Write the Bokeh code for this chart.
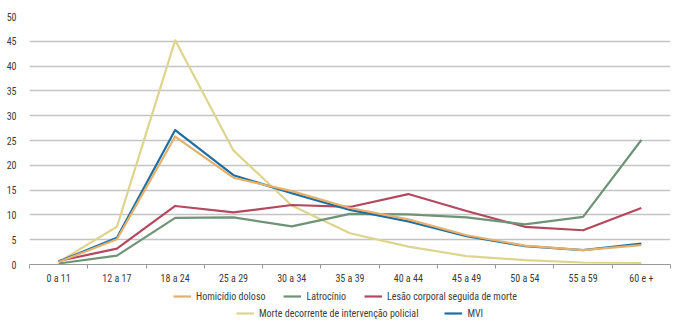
from bokeh.plotting import figure
from bokeh.layouts import column
from bokeh.models import Range1d, FixedTicker, Legend, LegendItem
from bokeh.embed import file_html
from bokeh.resources import INLINE

# Age groups and rates by type of violent death
categories = ["0 a 11", "12 a 17", "18 a 24", "25 a 29", "30 a 34", "35 a 39",
              "40 a 44", "45 a 49", "50 a 54", "55 a 59", "60 e +"]
homicidio_doloso = [0.5, 5.1, 25.8, 17.5, 14.8, 11.4, 9.1, 5.9, 3.8, 2.9, 3.9]
latrocinio = [0.2, 1.8, 9.4, 9.5, 7.7, 10.2, 10.1, 9.5, 8.1, 9.6, 25.1]
lesao_corporal = [0.7, 3.2, 11.8, 10.5, 12.0, 11.6, 14.2, 10.8, 7.6, 6.9, 11.4]
morte_policial = [0.5, 7.6, 45.2, 23.0, 11.9, 6.3, 3.6, 1.7, 0.9, 0.4, 0.3]
mvi = [0.6, 5.4, 27.1, 18.0, 14.4, 11.0, 8.7, 5.7, 3.7, 2.9, 4.2]
y_ticks = [0, 5, 10, 15, 20, 25, 30, 35, 40, 45, 50]

FONT = "'Liberation Sans Narrow', 'Roboto Condensed', 'Arial Narrow', sans-serif"
TEXT = "#3c3c3c"
GRID = "#c4c4c4"

series = [
    ("Homicídio doloso", homicidio_doloso, "#e4b06a"),
    ("Latrocínio", latrocinio, "#6f9376"),
    ("Lesão corporal seguida de morte", lesao_corporal, "#b4485e"),
    ("Morte decorrente de intervenção policial", morte_policial, "#ddd58e"),
    ("MVI", mvi, "#1d6fa3"),
]

# each age group sits in the middle of its slot; slot edges carry the tick marks
xs = [i + 0.5 for i in range(len(categories))]
edges = list(range(len(categories) + 1))

chart = figure(frame_width=641, frame_height=248, output_backend="svg",
               toolbar_location=None,
               x_range=Range1d(0, len(categories)), y_range=Range1d(0, 50),
               min_border_left=29, min_border_right=23, min_border_top=16,
               min_border_bottom=20)
chart.outline_line_color = None

draw_order = [3, 2, 1, 4, 0]
for idx in draw_order:
    name, vals, color = series[idx]
    chart.line(xs, vals, line_color=color, line_width=2.2, line_join="round")

# x axis: labels at group centres, small ticks at group boundaries
xa = chart.xaxis[0]
xa.ticker = FixedTicker(ticks=xs, minor_ticks=edges)
xa.major_label_overrides = {x: c for x, c in zip(xs, categories)}
xa.major_tick_line_color = None
xa.major_tick_in = 0
xa.major_tick_out = 0
xa.minor_tick_line_color = "#9a9a9a"
xa.minor_tick_in = 0
xa.minor_tick_out = 4
xa.axis_line_color = "#9a9a9a"
xa.axis_line_width = 1.2
xa.major_label_text_font = FONT
xa.major_label_text_font_size = "10px"
xa.major_label_text_color = TEXT
xa.major_label_standoff = 4

ya = chart.yaxis[0]
ya.ticker = FixedTicker(ticks=y_ticks)
ya.axis_line_color = None
ya.major_tick_line_color = None
ya.minor_tick_line_color = None
ya.major_label_text_font = FONT
ya.major_label_text_font_size = "10px"
ya.major_label_text_color = TEXT
ya.major_label_standoff = 7

chart.xgrid.grid_line_color = None
chart.ygrid.ticker = FixedTicker(ticks=y_ticks)
chart.ygrid.grid_line_color = GRID
chart.ygrid.grid_line_width = 1.5

# legend strip: key lines in the same colours (no data of their own), two rows
key = figure(width=693, height=45, output_backend="svg", toolbar_location=None,
             x_axis_location=None, y_axis_location=None, min_border=0,
             x_range=Range1d(0, 1), y_range=Range1d(0, 1))
key.outline_line_color = None
key.grid.visible = False
nan = float("nan")
samples = {}
for name, vals, color in series:
    samples[name] = key.line(x=[nan], y=[nan], line_color=color, line_width=2.2)


def make_legend(names, loc, spacing):
    return Legend(items=[LegendItem(label=n, renderers=[samples[n]]) for n in names],
                  orientation="horizontal", location=loc,
                  glyph_width=18, glyph_height=10, label_standoff=5,
                  spacing=spacing, padding=0, margin=0, label_height=12,
                  label_text_font=FONT, label_text_font_size="10px",
                  label_text_color=TEXT, border_line_color=None,
                  background_fill_alpha=0)


key.add_layout(make_legend(["Homicídio doloso", "Latrocínio",
                            "Lesão corporal seguida de morte"], (144, 29), 18))
key.add_layout(make_legend(["Morte decorrente de intervenção policial", "MVI"],
                           (207, 12), 26))

p = column(chart, key, spacing=0)

open("out.html", "w").write(file_html(p, INLINE))
